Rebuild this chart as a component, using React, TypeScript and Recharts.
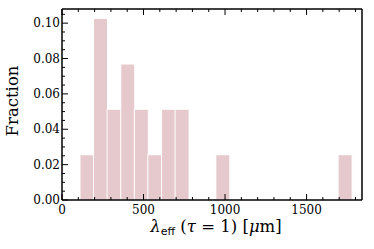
import { BarChart, Bar, XAxis, YAxis, Label } from 'recharts';

// histogram bins (centres, um) and fraction per bin
const binCenters = [152, 235, 318, 402, 485, 568, 652, 735, 818, 902, 985, 1068, 1152, 1235, 1318, 1402, 1485, 1568, 1652, 1735];
const fractions = [0.0256, 0.1026, 0.0513, 0.0769, 0.0513, 0.0256, 0.0513, 0.0513, 0, 0, 0.0256, 0, 0, 0, 0, 0, 0, 0, 0, 0.0256];

const xMajor = [0, 500, 1000, 1500];
const xTicks = [0, 100, 200, 300, 400, 500, 600, 700, 800, 900, 1000, 1100, 1200, 1300, 1400, 1500, 1600, 1700, 1800];
const yTicks = [0, 0.005, 0.01, 0.015, 0.02, 0.025, 0.03, 0.035, 0.04, 0.045, 0.05, 0.055, 0.06, 0.065, 0.07, 0.075, 0.08, 0.085, 0.09, 0.095, 0.1, 0.105];

const data = binCenters.map((c, i) => ({ x: c, frac: fractions[i] }));

const FONT = 'DejaVu Serif';
const isYMajor = (v: number) => Math.round(v * 1000) % 20 === 0;

const XTick = (props: any) => {
  const { x, y, payload, top } = props;
  const major = xMajor.includes(payload.value);
  const len = major ? 6 : 3;
  const dir = top ? 1 : -1;
  return (
    <g>
      <line x1={x} y1={y} x2={x} y2={y + dir * len} stroke="#000" strokeWidth={1} />
      {!top && major && (
        <text x={x} y={y + 14} textAnchor="middle" fontFamily={FONT} fontSize={12} fill="#000">
          {payload.value}
        </text>
      )}
    </g>
  );
};

const YTick = (props: any) => {
  const { x, y, payload, right } = props;
  const major = isYMajor(payload.value);
  const len = major ? 6 : 3;
  const dir = right ? -1 : 1;
  return (
    <g>
      <line x1={x} y1={y} x2={x + dir * len} y2={y} stroke="#000" strokeWidth={1} />
      {!right && major && (
        <text x={x - 2} y={y + 4} textAnchor="end" fontFamily={FONT} fontSize={12} fill="#000">
          {payload.value.toFixed(2)}
        </text>
      )}
    </g>
  );
};

export default function App() {
  return (
    <div style={{ position: 'absolute', left: 0, top: 0, background: '#fff' }}>
      <BarChart
        width={374}
        height={249}
        data={data}
        margin={{ top: 8, right: 11, bottom: 0, left: 0 }}
        barCategoryGap={0}
        barGap={0}
      >
        <XAxis
          dataKey="x"
          type="number"
          domain={[0, 1840]}
          ticks={xTicks}
          interval={0}
          height={49}
          tickSize={0}
          tickMargin={0}
          tickLine={false}
          axisLine={{ stroke: '#000', strokeWidth: 1.5 }}
          tick={<XTick />}
        >
          <Label
            content={(p: any) => {
              const vb = p.viewBox;
              const cx = vb.x + vb.width / 2 + 4;
              return (
                <text x={cx} y={232} textAnchor="middle" fontFamily={FONT} fontSize={16.5} fill="#000">
                  <tspan fontStyle="italic">λ</tspan>
                  <tspan fontFamily="DejaVu Sans" fontSize={11} dy={3}>eff</tspan>
                  <tspan dy={-3}> (</tspan>
                  <tspan fontStyle="italic">τ</tspan>
                  <tspan> = 1) [</tspan>
                  <tspan fontStyle="italic">μ</tspan>
                  <tspan>m]</tspan>
                </text>
              );
            }}
          />
        </XAxis>
        <XAxis
          xAxisId="top"
          orientation="top"
          type="number"
          dataKey="x"
          domain={[0, 1840]}
          ticks={xTicks}
          interval={0}
          height={1}
          tickSize={0}
          tickMargin={0}
          tickLine={false}
          axisLine={{ stroke: '#000', strokeWidth: 1.5 }}
          tick={<XTick top />}
        />
        <YAxis
          type="number"
          domain={[0, 0.108]}
          ticks={yTicks}
          interval={0}
          width={62}
          tickSize={0}
          tickMargin={0}
          tickLine={false}
          axisLine={{ stroke: '#000', strokeWidth: 1.5 }}
          tick={<YTick />}
        >
          <Label
            content={() => (
              <text
                x={18}
                y={101}
                transform="rotate(-90 18 101)"
                textAnchor="middle"
                fontFamily={FONT}
                fontSize={16.5}
                fill="#000"
              >
                Fraction
              </text>
            )}
          />
        </YAxis>
        <YAxis
          yAxisId="right"
          orientation="right"
          type="number"
          domain={[0, 0.108]}
          ticks={yTicks}
          interval={0}
          width={1}
          tickSize={0}
          tickMargin={0}
          tickLine={false}
          axisLine={{ stroke: '#000', strokeWidth: 1.5 }}
          tick={<YTick right />}
        />
        <Bar dataKey="frac" fill="#e6c9cc" stroke="#fff" strokeWidth={1} isAnimationActive={false} />
      </BarChart>
    </div>
  );
}
